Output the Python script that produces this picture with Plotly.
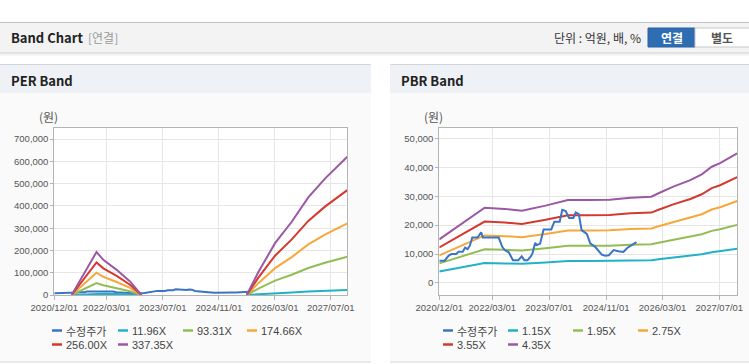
import plotly.graph_objects as go

W, H = 749, 364

# ---------------- data ----------------
x_tick_vals = ["2020-12-01", "2022-03-01", "2023-07-01", "2024-11-01", "2026-03-01", "2027-07-01"]
x_tick_text = ["2020/12/01", "2022/03/01", "2023/07/01", "2024/11/01", "2026/03/01", "2027/07/01"]

price_name = "수정주가"
price_dates = ["2020-12-01", "2021-01-15", "2021-02-20", "2021-03-15", "2021-04-25", "2021-05-15",
               "2021-06-20", "2021-07-10", "2021-08-01", "2021-08-20", "2021-09-10", "2021-10-25",
               "2021-11-25", "2021-12-10", "2022-04-25", "2022-05-25", "2022-06-15", "2022-07-20",
               "2022-08-25", "2022-10-10", "2022-11-08", "2022-12-01", "2022-12-28", "2023-01-25",
               "2023-02-09", "2023-03-03", "2023-03-20", "2023-04-15", "2023-05-15", "2023-07-20",
               "2023-08-15", "2023-09-30", "2023-10-22", "2023-11-20", "2023-12-20", "2024-01-25",
               "2024-02-15", "2024-03-12", "2024-04-05", "2024-05-20", "2024-06-18", "2024-07-30",
               "2024-09-25", "2024-10-25", "2024-11-25", "2025-01-05", "2025-02-15", "2025-03-30",
               "2025-05-01", "2025-07-20"]
price_values = [7700, 7700, 9500, 10000, 10000, 10800, 10800, 12200, 11700, 12900,
                15700, 15700, 17500, 15700, 15700, 12500, 11400, 10600, 7900, 7900,
                9200, 7900, 7900, 9200, 10300, 13800, 13100, 13600, 18500, 18500,
                21200, 21200, 25300, 24900, 22500, 22500, 24400, 23800, 18300, 17000,
                13700, 12500, 9800, 9400, 9600, 11400, 11000, 10700, 12100, 14100]

# PER band (원)
per_dates = ["2021-05-01", "2021-12-03", "2022-01-31", "2022-05-27", "2022-09-20", "2022-12-28",
             "2024-03-01", "2025-07-01", "2025-10-10", "2026-03-04", "2026-07-27", "2026-12-18",
             "2027-05-12", "2027-11-22"]
per_names = ["11.96X", "93.31X", "174.66X", "256.00X", "337.35X"]
per_11_96 = [0, 6840, 5600, 4010, 2160, 0, None, 0, 3650, 8250, 11660, 15550, 18540, 22010]
per_93_31 = [0, 53370, 43670, 31260, 16890, 0, None, 0, 28460, 64380, 90980, 121300, 144630, 171690]
per_174_66 = [0, 99910, 81740, 58510, 31610, 0, None, 0, 53270, 120520, 170290, 227060, 270720, 321370]
per_256_00 = [0, 146430, 119810, 85760, 46340, 0, None, 0, 78080, 176640, 249600, 332800, 396800, 471040]
per_337_35 = [0, 192960, 157880, 113010, 61060, 0, None, 0, 102890, 232770, 328920, 438560, 522890, 620720]
per_y_ticks = [0, 100000, 200000, 300000, 400000, 500000, 600000, 700000]

# PBR band (원)
pbr_dates = ["2020-12-01", "2021-06-01", "2021-12-25", "2022-06-15", "2022-11-10", "2023-06-01",
             "2023-12-10", "2024-06-01", "2024-12-01", "2025-06-01", "2025-11-25", "2026-01-25",
             "2026-06-01", "2026-10-25", "2027-01-31", "2027-04-27", "2027-07-07", "2027-12-01"]
pbr_names = ["1.15X", "1.95X", "2.75X", "3.55X", "4.35X"]
pbr_1_15 = [3990, 5350, 6880, 6770, 6610, 7070, 7590, 7590, 7610, 7800, 7890, 8200, 8810, 9410, 9940, 10630, 10950, 11850]
pbr_1_95 = [6770, 9070, 11660, 11490, 11210, 11990, 12870, 12870, 12910, 13220, 13380, 13900, 14940, 15950, 16850, 18020, 18560, 20090]
pbr_2_75 = [9540, 12790, 16450, 16200, 15810, 16910, 18150, 18150, 18210, 18650, 18870, 19610, 21070, 22500, 23760, 25410, 26180, 28330]
pbr_3_55 = [12320, 16510, 21230, 20910, 20410, 21830, 23430, 23430, 23500, 24070, 24350, 25310, 27190, 29040, 30670, 32800, 33800, 36570]
pbr_4_35 = [15090, 20230, 26010, 25620, 25010, 26750, 28710, 28710, 28800, 29490, 29840, 31020, 33320, 35580, 37580, 40190, 41410, 44810]
pbr_y_ticks = [0, 10000, 20000, 30000, 40000, 50000]

# ---------------- style ----------------
C_PRICE = "#3b74c4"
BAND_COLORS = ["#22b1c6", "#92bd55", "#f6a83c", "#d4382e", "#9b58a4"]
TICK_FONT = dict(family="Liberation Sans, Arial", size=9.5, color="#555555")
GRID = "#e6e6e6"
BORDER = "#b4b4b4"
KFONT = "Noto Sans CJK KR, Liberation Sans"


def fx(x):
    return x / W


def fy(y):
    return 1 - y / H


fig = go.Figure()

# PER traces (price first, bands on top)
fig.add_trace(go.Scatter(x=price_dates, y=price_values, name=price_name, mode="lines",
                         line=dict(color=C_PRICE, width=2), xaxis="x", yaxis="y", showlegend=False))
for nm, vals, col in zip(per_names, [per_11_96, per_93_31, per_174_66, per_256_00, per_337_35], BAND_COLORS):
    fig.add_trace(go.Scatter(x=per_dates, y=vals, name=nm, mode="lines", connectgaps=False,
                             line=dict(color=col, width=2), xaxis="x", yaxis="y", showlegend=False))

# PBR traces (bands first, price on top)
for nm, vals, col in zip(pbr_names, [pbr_1_15, pbr_1_95, pbr_2_75, pbr_3_55, pbr_4_35], BAND_COLORS):
    fig.add_trace(go.Scatter(x=pbr_dates, y=vals, name=nm, mode="lines",
                             line=dict(color=col, width=2), xaxis="x2", yaxis="y2", showlegend=False))
fig.add_trace(go.Scatter(x=price_dates, y=price_values, name=price_name, mode="lines",
                         line=dict(color=C_PRICE, width=2), xaxis="x2", yaxis="y2", showlegend=False))

# plot areas (pixels)
L_X0, L_X1 = 54.3, 347.3
R_X0, R_X1 = 439.3, 737.3
P_Y0, P_Y1 = 128, 295

xcommon = dict(type="date", tickvals=x_tick_vals, ticktext=x_tick_text, showgrid=True, gridcolor=GRID,
               gridwidth=1, ticks="outside", ticklen=4, tickcolor=BORDER, showline=True, linecolor=BORDER,
               linewidth=1, mirror=True, tickfont=TICK_FONT, zeroline=False, fixedrange=True, tickangle=0,
               automargin=False)
ycommon = dict(showgrid=True, gridcolor=GRID, gridwidth=1, ticks="outside", ticklen=3, tickcolor=BORDER,
               showline=True, linecolor=BORDER, linewidth=1, mirror=True, tickfont=TICK_FONT,
               tickformat=",", zeroline=False, fixedrange=True, automargin=False)

fig.update_layout(
    width=W, height=H, autosize=False,
    margin=dict(l=0, r=0, t=0, b=0, pad=0, autoexpand=False),
    paper_bgcolor="white", plot_bgcolor="white", showlegend=False,
    xaxis=dict(domain=[fx(L_X0), fx(L_X1)], range=["2020-12-01", "2027-11-22"], anchor="y", **xcommon),
    yaxis=dict(domain=[fy(P_Y1), fy(P_Y0)], range=[0, 750000], tickvals=per_y_ticks, anchor="x", **ycommon),
    xaxis2=dict(domain=[fx(R_X0), fx(R_X1)], range=["2020-12-01", "2027-12-02"], anchor="y2", **xcommon),
    yaxis2=dict(domain=[fy(P_Y1), fy(P_Y0)], range=[-4150, 53580], tickvals=pbr_y_ticks, anchor="x2", **ycommon),
)

shapes = []


def rect(x0, y0, x1, y1, fill, line_color=None, lw=0, layer="below"):
    shapes.append(dict(type="rect", xref="paper", yref="paper", x0=fx(x0), x1=fx(x1), y0=fy(y1), y1=fy(y0),
                       fillcolor=fill, line=dict(color=line_color or fill, width=lw), layer=layer))


def hline(x0, x1, y, color, w=1, layer="below"):
    shapes.append(dict(type="line", xref="paper", yref="paper", x0=fx(x0), x1=fx(x1), y0=fy(y), y1=fy(y),
                       line=dict(color=color, width=w), layer=layer))


# header bar
rect(0, 22, 749, 53, "#f3f3f3")
hline(0, 749, 22.5, "#c3c3c3")
hline(0, 749, 53, "#cdcdcd")
hline(0, 749, 54, "#e4e4e4")
hline(0, 749, 55, "#f2f2f2")
# buttons
rect(648, 28, 695, 47, "#2f6db3", "#2a63a3", 1)
rect(695, 28, 752, 47, "#ffffff", "#c8c8c8", 1)

# panels
for (a, b) in [(0, 371), (390, 752)]:
    rect(a, 93, b, 362, "#fafafa")
    rect(a, 64, b, 93, "#eef1f6")
    hline(a, b, 64.5, "#d3d6db")
    hline(a, b, 362, "#d8d8d8")
# white plot backgrounds
rect(L_X0, P_Y0, L_X1, P_Y1, "#ffffff")
rect(R_X0, P_Y0, R_X1, P_Y1, "#ffffff")

annotations = []


def text(x, y, s, size=11, color="#333333", family=KFONT, xanchor="left", bold=False):
    if bold:
        s = "<b>" + s + "</b>"
    annotations.append(dict(x=fx(x), y=fy(y), xref="paper", yref="paper", text=s, showarrow=False,
                            borderpad=0, xanchor=xanchor, yanchor="middle",
                            font=dict(size=size, color=color, family=family)))


text(10, 38, "Band Chart", size=13, color="#222222", bold=True)
text(87, 38, "[연결]", size=12, color="#9a9a9a")
text(642, 38, "단위 : 억원, 배, %", size=12, color="#333333", xanchor="right")
text(671.5, 37.5, "연결", size=12, color="#ffffff", xanchor="center", bold=True)
text(722, 37.5, "별도", size=12, color="#555555", xanchor="center", bold=True)
text(10, 80, "PER Band", size=13, color="#222222", bold=True)
text(400, 80, "PBR Band", size=13, color="#222222", bold=True)
text(49, 117, "(원)", size=12, color="#555555", xanchor="center")
text(434, 117, "(원)", size=12, color="#555555", xanchor="center")

# legends
left_names = [price_name] + per_names
right_names = [price_name] + pbr_names
colors = [C_PRICE] + BAND_COLORS


def legend(names, cols_x, rows_y):
    for i, (nm, col) in enumerate(zip(names, colors)):
        r, c = divmod(i, 4)
        x0 = cols_x[c]
        y = rows_y[r]
        shapes.append(dict(type="line", xref="paper", yref="paper", x0=fx(x0), x1=fx(x0 + 10),
                           y0=fy(y), y1=fy(y), line=dict(color=col, width=2.5), layer="above"))
        fam = KFONT if nm == price_name else "Liberation Sans, Arial"
        text(x0 + 13, y, nm, size=11, color="#444444", family=fam)


legend(left_names, [52, 118, 183, 247], [330.5, 344.5])
legend(right_names, [443, 508, 573, 638], [330.5, 344.5])

fig.update_layout(shapes=shapes, annotations=annotations)
fig.write_html("out.html", config={"responsive": False, "displayModeBar": False},
               post_script="document.body.style.margin='0';document.body.style.padding='0';"
                           "document.documentElement.style.overflow='hidden';")
